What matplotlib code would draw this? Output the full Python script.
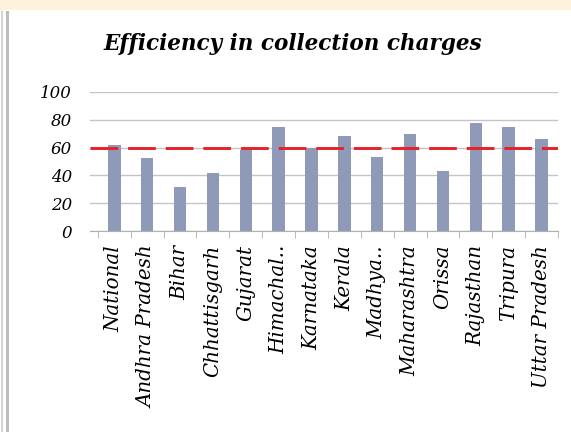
# efficiency_chart.py

import matplotlib
matplotlib.use("Agg")
import matplotlib.pyplot as plt
import matplotlib.patches as patches

#
# Data
#

states = ["National", "Andhra Pradesh", "Bihar", "Chhattisgarh", "Gujarat",
          "Himachal..", "Karnataka", "Kerala", "Madhya..", "Maharashtra",
          "Orissa", "Rajasthan", "Tripura", "Uttar Pradesh"]
efficiency = [62, 52.5, 32, 41.5, 58, 74.5, 60, 68, 53, 70, 43, 77.5, 75, 66.5]
benchmark = 60
y_ticks = [0, 20, 40, 60, 80, 100]

chart_title = "Efficiency in collection charges"
label_font = {"family": "DejaVu Serif", "style": "italic"}

#
# Figure
#

fig = plt.figure(figsize=(5.71, 4.32), dpi=100)
fig.patch.set_facecolor("white")

# yellow strip at the top and grey frame on the left (screenshot look)
fig.patches.append(patches.Rectangle((0, 1 - 10 / 432), 1, 10 / 432, transform=fig.transFigure,
                                     facecolor="#fef2dc", edgecolor="none", zorder=0))
fig.patches.append(patches.Rectangle((1 / 571, 0), 2 / 571, 1 - 11 / 432, transform=fig.transFigure,
                                     facecolor="#d4d4d4", edgecolor="none", zorder=0))
fig.patches.append(patches.Rectangle((6 / 571, 0), 2.5 / 571, 1 - 11 / 432, transform=fig.transFigure,
                                     facecolor="#bdbdbd", edgecolor="none", zorder=0))

ax = fig.add_axes([90 / 571, 1 - 231 / 432, (558 - 90) / 571, (231 - 92) / 432])

x = list(range(len(states)))
ax.bar(x, efficiency, width=0.38, color="#8e9ab8", zorder=2)
ax.axhline(benchmark, color="#e8202a", linewidth=2.1, dashes=(9.5, 3.4), zorder=3)

ax.set_xlim(-0.74, len(states) - 0.5)
ax.set_ylim(0, 100)

ax.set_yticks(y_ticks)
ax.set_yticklabels([str(v) for v in y_ticks], fontdict=dict(label_font, size=12))
ax.tick_params(axis="y", length=0, pad=13)
ax.yaxis.grid(True, color="#c4c4c4", linewidth=1)
ax.set_axisbelow(True)

ax.set_xticks(x)
ax.set_xticklabels(states, rotation=90, fontdict=dict(label_font, size=14.3))
ax.tick_params(axis="x", which="major", length=0, pad=10)
ax.set_xticks([i - 0.5 for i in range(len(states) + 1)], minor=True)
ax.tick_params(axis="x", which="minor", length=5, color="#b0b0b0", direction="out")

for side in ["top", "right", "left"]:
    ax.spines[side].set_visible(False)
ax.spines["bottom"].set_color("#b0b0b0")

fig.text(293 / 571, 1 - 44 / 432, chart_title, ha="center", va="center",
         fontsize=15.5, fontweight="bold", **label_font)

plt.savefig("out.png", dpi=100)
